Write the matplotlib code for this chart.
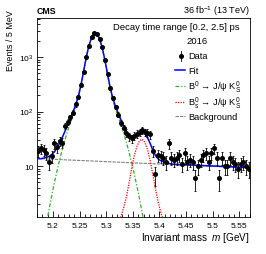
import numpy as np
import matplotlib.pyplot as plt
from matplotlib.ticker import FixedLocator, MultipleLocator, LogLocator, NullFormatter

plt.rcParams['font.family'] = ['Liberation Sans', 'DejaVu Sans']
plt.rcParams['mathtext.fontset'] = 'custom'
plt.rcParams['mathtext.rm'] = 'Liberation Sans'
plt.rcParams['mathtext.it'] = 'Liberation Sans:italic'
plt.rcParams['mathtext.bf'] = 'Liberation Sans:bold'

# binning: 80 bins of 5 MeV between 5.17 and 5.57 GeV
bin_lo, bin_width, n_bins = 5.17, 0.005, 80
mass = bin_lo + bin_width * (np.arange(n_bins) + 0.5)

counts = [19, 21, 20, 17, 12, 15, 26, 22, 29, 27,
          55, 65, 78, 95, 135, 185, 310, 540, 1000, 1600,
          2320, 2750, 2680, 2140, 1500, 870, 495, 268, 176, 120,
          88, 62, 50, 41, 35, 32, 36, 39, 42, 46,
          42, 41, 38, 19, 7, 16, 15, 14, 12, 26,
          14, 13, 14, 16, 11, 17, 12, 13, 12, 6,
          10, 13, 16, 17, 12, 17, 21, 14, 6, 14,
          10, 10, 14, 12, 11, 9, 11, 12, 10, 9]

fit_total = [13.7, 13.6, 14.0, 14.3, 15.0, 16.2, 18.1, 21.3, 26.2, 33.4,
             43.5, 57.1, 75.2, 98.6, 131.6, 188, 304, 547, 988, 1622,
             2290, 2709, 2659, 2166, 1484, 882, 484, 273, 173, 123,
             92.8, 71.0, 54.4, 42.3, 34.8, 32.2, 33.9, 38.6, 42.9, 43.7,
             39.2, 33.0, 26.0, 19.5, 15.5, 13.5, 12.5, 12.0, 11.6, 11.2,
             10.9, 10.8, 10.7, 10.65, 10.6, 10.55, 10.5, 10.45, 10.4, 10.35,
             10.3, 10.25, 10.2, 10.15, 10.1, 10.05, 10.0, 9.95, 9.9, 9.85,
             9.8, 9.75, 9.7, 9.65, 9.6, 9.55, 9.5, 9.45, 9.4, 9.35]
fit_edges = (13.75, 9.33)

# B0 component, bins 3..40
b0_first = 3
b0_comp = [0.85, 1.57, 2.8, 4.83, 8.05, 12.98, 20.2, 30.4, 44.1, 62.3,
           85.8, 118.9, 175.4, 291.8, 534, 975, 1610, 2278, 2697, 2647,
           2154, 1472, 870, 472, 261, 161, 111, 80.6, 58.3, 41.1,
           28.1, 18.5, 11.8, 7.3, 4.35, 2.5, 1.39, 0.75]

# Bs component, bins 30..48
bs_first = 30
bs_comp = [0.84, 1.17, 1.7, 2.6, 4.65, 8.8, 15.1, 22.8, 29.1, 31.0,
           27.3, 20.1, 12.5, 7.0, 3.8, 2.2, 1.4, 1.0, 0.67]

bkg_mass = [5.17, 5.22, 5.27, 5.32, 5.37, 5.42, 5.47, 5.52, 5.57]
bkg_comp = [13.7, 13.03, 12.4, 11.8, 11.2, 10.67, 10.15, 9.66, 9.2]

xtick_vals = [5.2, 5.25, 5.3, 5.35, 5.4, 5.45, 5.5, 5.55]
xtick_labels = ['5.2', '5.25', '5.3', '5.35', '5.4', '5.45', '5.5', '5.55']
ytick_vals = [10, 100, 1000]
ytick_labels = ['10', '$10^2$', '$10^3$']

W, H = 266, 255
L, R, T, B = 37, 250, 19, 218

fig = plt.figure(figsize=(W / 100, H / 100), dpi=100)
ax = fig.add_axes([L / W, 1 - B / H, (R - L) / W, (B - T) / H])

counts = np.array(counts, dtype=float)
ax.errorbar(mass, counts, yerr=np.sqrt(counts), fmt='o', color='black',
            ms=2.6, elinewidth=0.6, capsize=0.8, capthick=0.6, zorder=5)

fit_x = np.concatenate([[bin_lo], mass, [bin_lo + n_bins * bin_width]])
fit_y = np.concatenate([[fit_edges[0]], fit_total, [fit_edges[1]]])

ax.plot(bkg_mass, bkg_comp, color='#808080', lw=0.8, ls=(0, (3, 1)), zorder=2)
ax.plot(mass[b0_first:b0_first + len(b0_comp)], b0_comp, color='#33aa33',
        lw=0.9, ls=(0, (3, 1.5, 1, 1.5)), zorder=3)
ax.plot(mass[bs_first:bs_first + len(bs_comp)], bs_comp, color='#ff0000',
        lw=0.9, ls=(0, (1, 1)), zorder=3)
ax.plot(fit_x, fit_y, color='#0000ff', lw=1.1, zorder=4)

ax.set_yscale('log')
ax.set_xlim(5.17, 5.57)
ax.set_ylim(1.16, 5200)

ax.xaxis.set_major_locator(FixedLocator(xtick_vals))
ax.set_xticklabels(xtick_labels)
ax.xaxis.set_minor_locator(MultipleLocator(0.01))
ax.yaxis.set_major_locator(FixedLocator(ytick_vals))
ax.set_yticklabels(ytick_labels)
ax.yaxis.set_minor_locator(LogLocator(base=10, subs=np.arange(2, 10)))
ax.yaxis.set_minor_formatter(NullFormatter())

ax.tick_params(which='both', direction='in', top=False, right=False,
               labelsize=6.0, width=0.6)
ax.tick_params(which='major', length=4.5)
ax.tick_params(which='minor', length=2.2)
ax.tick_params(axis='x', pad=3.5)
ax.tick_params(axis='y', pad=2.5)
for s in ax.spines.values():
    s.set_linewidth(0.6)

ax.set_xlabel('Invariant mass  $m$ [GeV]', fontsize=7.2, loc='right', labelpad=1)
ax.set_ylabel('Events / 5 MeV', fontsize=6.4, loc='top')
ax.yaxis.set_label_coords((15.5 - L) / (R - L), (B - 10) / (B - T))


def fpos(x, y):
    return x / W, 1 - y / H


def apos(x, y):
    return (x - L) / (R - L), (B - y) / (B - T)


fig.text(*fpos(37, 11), 'CMS', fontsize=6.3, weight='bold', ha='left', va='center')
fig.text(*fpos(250, 11), r'36 fb$^{-1}$ (13 TeV)', fontsize=6.5, ha='right', va='center')
fig.text(*fpos(240, 27), 'Decay time range [0.2, 2.5] ps', fontsize=6.8, ha='right', va='center')
fig.text(*fpos(197.5, 42), '2016', fontsize=6.8, ha='center', va='center')

# legend drawn by hand
tx = 188
rows = [56.7, 71, 87.3, 102.7, 117.3]
names = ['Data', 'Fit',
         'B$^0$ → J/ψ K$^0_\\mathrm{S}$',
         'B$^0_\\mathrm{s}$ → J/ψ K$^0_\\mathrm{S}$',
         'Background']
for y, name in zip(rows, names):
    fig.text(*fpos(tx, y), name, fontsize=6.7, ha='left', va='center')

x0, y0 = apos(181, rows[0])
_, ylo = apos(181, rows[0] + 5)
_, yhi = apos(181, rows[0] - 5)
ax.plot([x0], [y0], 'o', color='black', ms=2.6, transform=ax.transAxes, clip_on=False)
ax.plot([x0, x0], [ylo, yhi], color='black', lw=0.6, transform=ax.transAxes, clip_on=False)
hx0, _ = apos(175, 0)
hx1, _ = apos(185, 0)
styles = [('#0000ff', '-', 1.1), ('#33aa33', (0, (3, 1.5, 1, 1.5)), 0.9),
          ('#ff0000', (0, (1, 1)), 0.9), ('#808080', (0, (3, 1)), 0.8)]
for y, (c, ls, lw) in zip(rows[1:], styles):
    _, ya = apos(0, y)
    ax.plot([hx0, hx1], [ya, ya], color=c, ls=ls, lw=lw, transform=ax.transAxes, clip_on=False)

fig.savefig('out.png', dpi=100)
